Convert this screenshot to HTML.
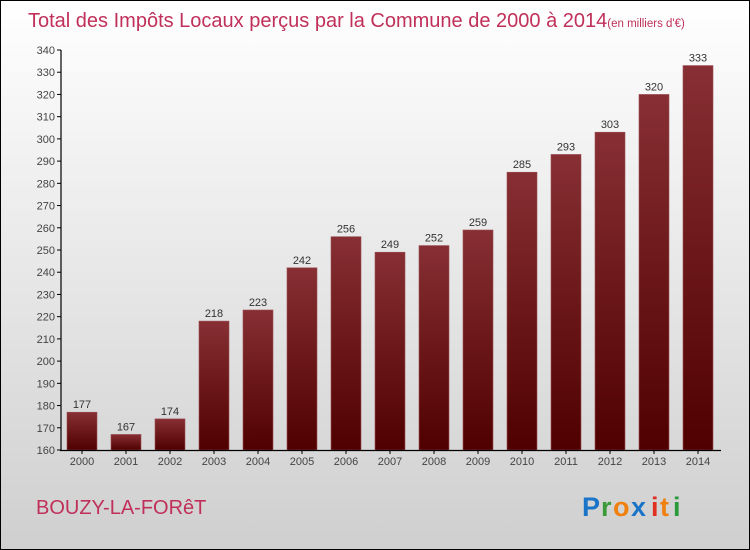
<!DOCTYPE html>
<html><head><meta charset="utf-8"><style>
body{margin:0;width:750px;height:550px;overflow:hidden}
#c{position:absolute;left:0;top:0;width:748px;height:548px;border:1px solid #000;background:linear-gradient(#ffffff,#cfcfcf)}
text{font-family:"Liberation Sans",sans-serif}
</style></head><body>
<div id="c">
<svg id="s" width="750" height="550" style="position:absolute;left:-1px;top:-1px">
<defs><linearGradient id="g" x1="0" y1="0" x2="0" y2="1"><stop offset="0" stop-color="#872f34"/><stop offset="1" stop-color="#500000"/></linearGradient></defs>
<text x="28" y="27" font-size="20" fill="#c0305a">Total des Impôts Locaux perçus par la Commune de 2000 à 2014<tspan font-size="11.5">(en milliers d'€)</tspan></text>
<text x="36" y="514" font-size="20" fill="#c0305a">BOUZY-LA-FORêT</text>
<g font-size="27" font-weight="bold">
<text x="582" y="516" fill="#1a75c9">P</text><text x="601" y="516" fill="#3a9a3a">r</text><text x="613" y="516" fill="#f08010">o</text><text x="631" y="516" fill="#1a75c9">x</text><text x="651" y="516" fill="#e03020">i</text><text x="660" y="516" fill="#f08010">t</text><text x="673" y="516" fill="#2a9a3a">i</text></g>
</svg></div>
<script>
const years=["2000","2001","2002","2003","2004","2005","2006","2007","2008","2009","2010","2011","2012","2013","2014"];
const values=[177,167,174,218,223,242,256,249,252,259,285,293,303,320,333];
const ticks=[160,170,180,190,200,210,220,230,240,250,260,270,280,290,300,310,320,330,340];
const s=document.getElementById('s'),NS='http://www.w3.org/2000/svg';
const y=v=>450-(v-160)*400/180, x=i=>82+i*44;
function mk(t,a,p){const e=document.createElementNS(NS,t);for(const k in a)e.setAttribute(k,a[k]);(p||s).appendChild(e);return e;}
ticks.forEach(t=>{
 const l=mk('line',{x1:57,x2:61,y1:y(t),y2:y(t),stroke:'#000'});
 
 
 const tx=mk('text',{x:55,y:y(t)+4,'text-anchor':'end','font-size':11,fill:'#444'});tx.textContent=t;
 
 
});
values.forEach((v,i)=>{
 const r=mk('rect',{x:x(i)-15,y:y(v),width:30,height:450-y(v),fill:'url(#g)',stroke:'#9a5055','stroke-width':0.6});
 
 
 const t=mk('text',{x:x(i),y:y(v)-4,'text-anchor':'middle','font-size':11,fill:'#333'});t.textContent=v;
 
 
 const k=mk('line',{x1:x(i),x2:x(i),y1:450,y2:454,stroke:'#000'});
 
 
 const xl=mk('text',{x:x(i),y:465,'text-anchor':'middle','font-size':11,fill:'#444'});xl.textContent=years[i];
 
 
});
const ya=mk('line',{x1:61,x2:61,y1:50,y2:451,stroke:'#000','stroke-width':1.2});


const xa=mk('line',{x1:60,x2:721,y1:450.5,y2:450.5,stroke:'#000','stroke-width':1.2});


</script></body></html>
